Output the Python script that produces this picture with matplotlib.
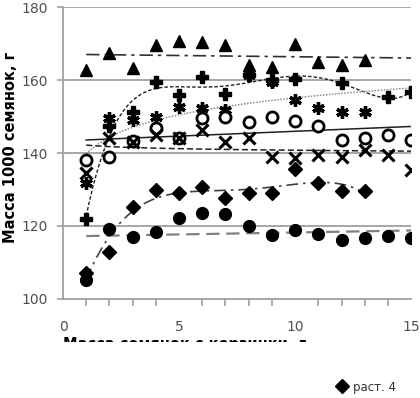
import numpy as np
import matplotlib
matplotlib.use("Agg")
import matplotlib.pyplot as plt
from matplotlib.transforms import Bbox, TransformedBbox

# ---- data -------------------------------------------------------------
x13 = np.arange(1, 14)
x15 = np.arange(1, 16)

tri_vals = [162.7, 167.4, 163.3, 169.6, 170.7, 170.4, 169.6, 164.1, 163.6, 169.9, 165.0, 164.1, 165.5]
star_vals = [131.8, 149.6, 149.0, 150.0, 152.5, 152.3, 151.8, 161.5, 159.5, 154.5, 152.3, 151.2, 151.2]
plus_vals = [121.9, 147.5, 151.2, 159.5, 155.9, 160.8, 156.2, 161.4, 160.0, 160.3, np.nan, 159.2, np.nan, 155.3, 156.7]
ocirc_vals = [138.1, 138.9, 143.3, 146.8, 144.1, 149.6, 149.9, 148.5, 149.9, 148.8, 147.4, 143.6, 144.1, 144.9, 143.6]
xmark_vals = [134.5, 144.1, 143.0, 145.0, 144.1, 146.3, 143.0, 144.1, 138.9, 138.6, 139.5, 138.9, 140.8, 139.5, 135.3]
diam_vals = [107.1, 112.9, 125.2, 129.9, 129.0, 130.7, 127.7, 129.0, 129.0, 135.6, 131.8, 129.6, 129.6]
fcirc_vals = [105.2, 119.2, 117.0, 118.4, 122.2, 123.6, 123.3, 120.0, 117.5, 118.9, 117.8, 116.2, 116.7, 117.3, 116.7]

y_ticks = [100, 120, 140, 160, 180]
x_ticks = [0, 5, 10, 15]
y_label = "Масса 1000 семянок, г"
x_label = "Масса семянок с корзинки, г"
legend_label = "раст. 4"

# ---- figure -----------------------------------------------------------
fig = plt.figure(figsize=(4.2, 3.98), dpi=100)
ax = fig.add_axes([0.150, 0.249, 0.829, 0.733])

grid_c = "#a0a0a0"
tick_c = "#505050"


def trend(x, y, kind, deg=1):
    x = np.asarray(x, float)
    y = np.asarray(y, float)
    m = ~np.isnan(y)
    x, y = x[m], y[m]
    if kind == "lin":
        p = np.polyfit(x, y, 1)
        return lambda t: np.polyval(p, t)
    if kind == "log":
        p = np.polyfit(np.log(x), y, 1)
        return lambda t: np.polyval(p, np.log(t))
    p = np.polyfit(x, y, deg)
    return lambda t: np.polyval(p, t)


t15 = np.linspace(1, 15, 300)
t13 = np.linspace(1, 13, 300)

# trend lines
f = trend(x13, tri_vals, "lin")
ax.plot(t15, f(t15), color="#303030", lw=1.2, dashes=(8, 3, 2, 3))
f = trend(x15, plus_vals, "poly", 5)
ax.plot(t15, f(t15), color="#202020", lw=1.0, dashes=(2.5, 1.5))
f = trend(x13, star_vals, "log")
ax.plot(t15, f(t15), color="#8a8a8a", lw=1.1, dashes=(1, 1))
f = trend(x15, ocirc_vals, "lin")
ax.plot(t15, f(t15), color="#202020", lw=1.1)
f = trend(x15, xmark_vals, "log")
ax.plot(t15, f(t15), color="#202020", lw=1.1, dashes=(4, 2))
f = trend(x13, diam_vals, "poly", 4)
ax.plot(t13, f(t13), color="#404040", lw=1.2, dashes=(7, 3, 1.5, 3))
f = trend(x15, fcirc_vals, "lin")
ax.plot(t15, f(t15), color="#808080", lw=1.6, dashes=(6, 3))

# markers
ax.plot(x13, tri_vals, ls="none", marker="^", ms=8.5, color="black")
ax.plot(x15, plus_vals, ls="none", marker="P", ms=8.5, color="black")
ax.plot(x13, star_vals, ls="none", marker=(6, 2, 0), ms=9, mew=2.4, color="black")
ax.plot(x15, ocirc_vals, ls="none", marker="o", ms=8, mew=2, mfc="white", mec="black")
ax.plot(x15, xmark_vals, ls="none", marker="x", ms=8, mew=2.2, color="black")
diam_line, = ax.plot(x13, diam_vals, ls="none", marker="D", ms=7, color="black")
ax.plot(x15, fcirc_vals, ls="none", marker="o", ms=8.5, color="black")

# axes styling
ax.set_xlim(0, 15)
ax.set_ylim(100, 180)
ax.set_yticks(y_ticks)
ax.set_xticks(x_ticks)
ax.set_xticks(np.arange(0, 16), minor=True)
for yv in y_ticks[1:]:
    ax.axhline(yv, color=grid_c, lw=1.3, zorder=0)
for s in ["top", "right"]:
    ax.spines[s].set_visible(False)
for s in ["left", "bottom"]:
    ax.spines[s].set_color(grid_c)
    ax.spines[s].set_linewidth(1.3)
ax.tick_params(axis="y", which="major", length=4, width=1.2, color=grid_c,
               labelsize=10, labelcolor=tick_c, pad=7)
ax.tick_params(axis="x", which="major", length=0, labelsize=10,
               labelcolor=tick_c, pad=15)
ax.tick_params(axis="x", which="minor", length=5, width=1.2, color=grid_c)

ax.set_ylabel(y_label, fontsize=10.5, fontweight="bold", va="center")
ax.yaxis.set_label_coords(-0.15, 0.52)
ax.patch.set_alpha(0)

# x label (its lower part is cut off in the reference)
xl = fig.text(0.150, 1 - 352 / 398, x_label, fontsize=10.5, fontweight="bold",
              ha="left", va="bottom")
clip = TransformedBbox(Bbox([[0, 1 - 342 / 398], [1, 1]]), fig.transFigure)
xl.set_clip_box(clip)
xl.set_clip_on(True)

leg = fig.legend([diam_line], [legend_label], loc="center left",
                 bbox_to_anchor=(0.8, 1 - 387 / 398), frameon=False,
                 fontsize=8.5, handletextpad=0.4, handlelength=1.0,
                 borderaxespad=0, borderpad=0)
for t in leg.get_texts():
    t.set_color("#303030")

fig.savefig("out.png", dpi=100)
